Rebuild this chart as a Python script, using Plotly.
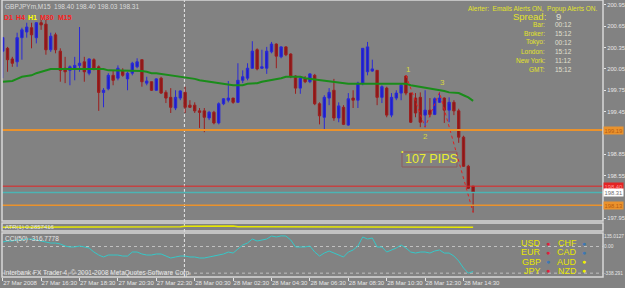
import plotly.graph_objects as go

W, H = 625, 288

# ---------------- data ----------------
bars = list(range(99))
open_ = [200.30, 200.34, 200.19, 200.15, 200.49, 200.57, 200.63, 200.49, 200.70, 200.68,
         200.32, 200.53, 200.30, 200.06, 200.03, 200.05, 200.10, 200.15, 199.99, 200.18,
         200.08, 199.72, 199.77, 199.96, 199.92, 200.03, 199.91, 199.99, 200.08, 200.18,
         199.85, 199.87, 199.75, 199.92, 199.72, 199.65, 199.50, 199.64, 199.72, 199.54,
         199.54, 199.46, 199.46, 199.36, 199.44, 199.29, 199.56, 199.61, 199.64, 199.58,
         199.89, 199.92, 200.06, 200.32, 200.06, 200.06, 200.29, 200.40, 200.22, 200.36,
         200.26, 199.95, 199.78, 199.91, 199.87, 199.96, 199.56, 199.37, 199.64, 199.75,
         199.36, 199.51, 199.26, 199.64, 199.61, 199.85, 200.01, 200.02, 200.03, 199.65,
         199.78, 199.40, 199.64, 199.71, 199.95, 199.71, 199.64, 199.65, 199.40, 199.47,
         199.41, 199.58, 199.64, 199.47, 199.58, 199.46, 199.09, 198.68, 198.40]
high = [200.50, 200.36, 200.22, 200.56, 200.63, 200.70, 200.70, 200.71, 200.74, 200.74,
        200.56, 200.56, 200.34, 200.22, 200.10, 200.22, 200.64, 200.22, 200.20, 200.20,
        200.10, 199.78, 199.99, 200.03, 200.10, 200.06, 200.01, 200.15, 200.20, 200.18,
        199.94, 199.87, 199.92, 199.94, 199.75, 199.78, 199.75, 199.75, 199.80, 199.61,
        199.58, 199.50, 199.50, 199.46, 199.46, 199.58, 199.64, 199.88, 199.64, 200.13,
        200.03, 200.13, 200.44, 200.34, 200.32, 200.36, 200.43, 200.41, 200.37, 200.37,
        200.27, 199.96, 199.94, 199.95, 199.99, 199.98, 199.58, 199.68, 199.78, 199.91,
        199.58, 199.54, 199.71, 199.75, 199.87, 200.34, 200.43, 200.18, 200.03, 199.82,
        199.80, 199.71, 199.75, 199.85, 199.96, 199.71, 199.71, 199.72, 199.75, 199.64,
        199.65, 199.72, 199.65, 199.65, 199.61, 199.49, 199.11, 198.70, 198.40]
low = [199.92, 200.01, 200.08, 200.08, 200.18, 200.49, 200.34, 200.41, 200.60, 200.25,
       200.29, 200.27, 199.87, 199.85, 199.82, 199.89, 200.01, 199.87, 199.96, 200.03,
       199.46, 199.51, 199.75, 199.82, 199.89, 199.94, 199.75, 199.96, 200.06, 199.80,
       199.82, 199.74, 199.74, 199.70, 199.57, 199.43, 199.47, 199.61, 199.43, 199.50,
       199.43, 199.22, 199.16, 199.33, 199.27, 199.27, 199.54, 199.58, 199.56, 199.57,
       199.85, 199.89, 200.05, 200.03, 200.05, 199.98, 200.27, 200.06, 200.20, 200.23,
       199.92, 199.70, 199.70, 199.85, 199.85, 199.54, 199.27, 199.18, 199.54, 199.32,
       199.30, 199.26, 199.25, 199.50, 199.50, 199.82, 199.96, 200.01, 199.54, 199.57,
       199.37, 199.37, 199.61, 199.61, 199.68, 199.29, 199.37, 199.23, 199.23, 199.37,
       199.40, 199.57, 199.29, 199.30, 199.40, 199.01, 198.67, 198.36, 198.03]
close = [200.49, 200.18, 200.13, 200.49, 200.60, 200.64, 200.53, 200.70, 200.67, 200.32,
         200.51, 200.32, 200.03, 200.01, 200.08, 200.10, 200.13, 200.01, 200.19, 200.06,
         199.72, 199.75, 199.96, 199.89, 200.06, 199.96, 199.99, 200.13, 200.15, 199.87,
         199.88, 199.75, 199.91, 199.71, 199.64, 199.51, 199.65, 199.74, 199.51, 199.51,
         199.46, 199.44, 199.37, 199.44, 199.29, 199.56, 199.63, 199.64, 199.58, 199.89,
         199.94, 200.06, 200.30, 200.05, 200.08, 200.30, 200.40, 200.23, 200.36, 200.25,
         199.94, 199.78, 199.92, 199.87, 199.98, 199.56, 199.39, 199.65, 199.72, 199.36,
         199.53, 199.27, 199.63, 199.61, 199.85, 200.34, 200.36, 200.05, 199.65, 199.80,
         199.40, 199.65, 199.71, 199.82, 199.71, 199.30, 199.43, 199.30, 199.47, 199.41,
         199.63, 199.64, 199.47, 199.58, 199.46, 199.09, 198.68, 198.37, 198.31]
ma = [199.87, 199.87, 199.88, 199.91, 199.94, 199.95, 199.96, 199.99, 200.01, 200.03,
      200.05, 200.05, 200.05, 200.05, 200.05, 200.05, 200.05, 200.05, 200.05, 200.05,
      200.05, 200.05, 200.03, 200.03, 200.02, 200.02, 200.02, 200.02, 200.02, 200.02,
      200.01, 199.99, 199.99, 199.98, 199.98, 199.96, 199.95, 199.95, 199.94, 199.92,
      199.91, 199.89, 199.88, 199.87, 199.85, 199.84, 199.84, 199.82, 199.82, 199.82,
      199.82, 199.84, 199.84, 199.85, 199.87, 199.88, 199.89, 199.91, 199.92, 199.94,
      199.94, 199.94, 199.94, 199.92, 199.91, 199.91, 199.89, 199.88, 199.87, 199.87,
      199.85, 199.85, 199.84, 199.84, 199.84, 199.85, 199.85, 199.85, 199.85, 199.85,
      199.85, 199.85, 199.84, 199.84, 199.84, 199.82, 199.81, 199.80, 199.78, 199.77,
      199.77, 199.75, 199.74, 199.72, 199.72, 199.71, 199.68, 199.65, 199.60]
cci = [57, 70, 70, 83, 83, 95, 95, 83, 70, 57,
       44, 44, 32, 6, -6, -6, 6, -6, -19, -70,
       -108, -133, -108, -108, -108, -121, -121, -70, -70, -95,
       -108, -108, -95, -95, -121, -146, -133, -121, -121, -133,
       -133, -146, -146, -133, -121, -108, -95, -70, -83, -32,
       19, 44, 95, 70, 83, 95, 133, 121, 135.01, 133,
       83, -6, -6, -6, 6, -70, -121, -83, -57, -83,
       -108, -133, -70, -44, 6, 121, 95, 108, -6, -6,
       -70, -44, -19, 19, -19, -70, -83, -70, -70, -83,
       -57, -44, -83, -83, -121, -184, -273, -338.29, -316.78]
ind2 = [0.46, 0.46, 0.46, 0.46, 0.46, 0.46, 0.46, 0.46, 0.46, 0.50,
        0.50, 0.50, 0.50, 0.50, 0.50, 0.50, 0.50, 0.50, 0.50, 0.50,
        0.50, 0.52, 0.52, 0.52, 0.52, 0.52, 0.52, 0.52, 0.52, 0.52,
        0.52, 0.52, 0.52, 0.52, 0.52, 0.52, 0.52, 0.52, 0.58, 0.58,
        0.58, 0.58, 0.62, 0.62, 0.62, 0.62, 0.62, 0.62, 0.62, 0.52,
        0.52, 0.50, 0.50, 0.50, 0.50, 0.50, 0.50, 0.50, 0.55, 0.55,
        0.55, 0.52, 0.52, 0.52, 0.52, 0.52, 0.52, 0.46, 0.46, 0.46,
        0.46, 0.48, 0.48, 0.48, 0.48, 0.48, 0.48, 0.48, 0.48, 0.48,
        0.48, 0.48, 0.48, 0.48, 0.48, 0.48, 0.48, 0.48, 0.48, 0.48,
        0.48, 0.48, 0.48, 0.48, 0.48, 0.48, 0.48, 0.48, 0.48]
zz_bars = [84, 88, 91, 98]
zz_vals = [199.96, 199.23, 199.72, 198.03]
zz_labels = ["1", "2", "3"]

time_tick_bars = [0, 8, 16, 24, 32, 40, 48, 56, 64, 72, 80, 88, 96]
time_tick_text = ["27 Mar 2008", "27 Mar 16:30", "27 Mar 18:30", "27 Mar 20:30",
                  "27 Mar 22:30", "28 Mar 00:30", "28 Mar 02:30", "28 Mar 04:30",
                  "28 Mar 06:30", "28 Mar 08:30", "28 Mar 10:30", "28 Mar 12:30",
                  "28 Mar 14:30"]
price_ticks = [197.95, 198.55, 198.85, 199.45, 199.75, 200.05, 200.35, 200.65, 200.95]
cci_ticks = [135.0127, 0.0, -338.291]
cci_tick_text = ["135.0127", "0.00", "-338.291"]

level_orange_hi = 199.19
level_orange_lo = 198.13
level_ask = 198.40
level_bid = 198.31
separator_bar = 37.85

info_labels = ["Bar:", "Broker:", "Tokyo:", "London:", "New York:", "GMT:"]
info_values = ["00:12", "15:12", "00:12", "15:12", "11:12", "15:12"]
currencies_left = ["USD", "EUR", "GBP", "JPY"]
colors_left = ["#e0203c", "#e0203c", "#3c78b4", "#e0203c"]
currencies_right = ["CHF", "CAD", "AUD", "NZD"]
colors_right = ["#3c78b4", "#3c78b4", "#f0f000", "#f0f000"]

# ---------------- figure ----------------
BG = "#828282"
FONT = "Liberation Sans, Arial, sans-serif"
WHITE = "#e6e6e6"
YEL = "#e2e22a"

fig = go.Figure()
fig.add_trace(go.Candlestick(
    x=bars, open=open_, high=high, low=low, close=close,
    increasing=dict(line=dict(color="#2a2ad6", width=1), fillcolor="#1e1ecc"),
    decreasing=dict(line=dict(color="#9c1e1e", width=1), fillcolor="#8c1818"),
    whiskerwidth=0, xaxis="x", yaxis="y", showlegend=False, hoverinfo="skip"))
fig.add_trace(go.Scatter(x=bars, y=ma, mode="lines", xaxis="x", yaxis="y",
                         line=dict(color="#1a8c1a", width=2), showlegend=False,
                         hoverinfo="skip"))
fig.add_trace(go.Scatter(x=zz_bars, y=zz_vals, mode="lines", xaxis="x", yaxis="y",
                         line=dict(color="#e02020", width=1, dash="dot"),
                         showlegend=False, hoverinfo="skip"))
fig.add_trace(go.Scatter(x=bars, y=ind2, mode="lines", xaxis="x", yaxis="y2",
                         line=dict(color="#e8e800", width=1.5), showlegend=False,
                         hoverinfo="skip"))
fig.add_trace(go.Scatter(x=bars, y=cci, mode="lines", xaxis="x", yaxis="y3",
                         line=dict(color="#35c8c8", width=1), showlegend=False,
                         hoverinfo="skip"))

def px(x):
    return x / W

def py(y):
    return 1 - y / H

X0, X1 = px(2), px(603)
MAIN = [py(221), 1]
P2 = [py(231), py(223)]
P3 = [py(277), py(233)]

fig.update_layout(
    width=W, height=H, margin=dict(l=0, r=0, t=0, b=0, autoexpand=False),
    paper_bgcolor=BG, plot_bgcolor=BG, showlegend=False,
    font=dict(family=FONT, color=WHITE, size=7),
    xaxis=dict(domain=[X0, X1], range=[-0.15, 125.06], anchor="y3",
               tickvals=time_tick_bars, ticktext=time_tick_text, tickangle=0,
               ticks="outside", ticklen=3, tickcolor=WHITE,
               ticklabelposition="outside right", automargin=False,
               tickfont=dict(size=6, color=WHITE, family=FONT),
               showgrid=False, zeroline=False, showline=False,
               rangeslider=dict(visible=False)),
    yaxis=dict(domain=MAIN, range=[197.91, 201.02], side="right", anchor="x",
               tickvals=price_ticks, ticktext=[f"{v:.2f}" for v in price_ticks],
               ticks="outside", ticklen=2, tickcolor=WHITE, automargin=False,
               tickfont=dict(size=5.8, color=WHITE, family=FONT),
               showgrid=False, zeroline=False),
    yaxis2=dict(domain=P2, range=[0, 1], anchor="x", showticklabels=False,
                showgrid=False, zeroline=False, automargin=False),
    yaxis3=dict(domain=P3, range=[-387, 171.5], side="right", anchor="x",
                tickvals=cci_ticks, ticktext=cci_tick_text, automargin=False,
                ticks="", ticklen=0, tickcolor=WHITE,
                tickfont=dict(size=4.8, color=WHITE, family=FONT),
                showgrid=False, zeroline=False),
)

shapes = []
# separator
shapes.append(dict(type="line", xref="x", yref="paper", x0=separator_bar, x1=separator_bar,
                   y0=P3[0], y1=1, line=dict(color="#e8e8e8", width=1, dash="3px,2px"),
                   layer="below"))
# CCI levels
for lv in [0.0, -338.291]:
    shapes.append(dict(type="line", xref="x domain", yref="y3", x0=0, x1=1, y0=lv, y1=lv,
                       line=dict(color="#c0c0c0", width=1, dash="3px,3px"), layer="below"))
# price levels
shapes.append(dict(type="line", xref="x domain", yref="y", x0=0, x1=1,
                   y0=level_orange_hi, y1=level_orange_hi, line=dict(color="#ea922c", width=2)))
shapes.append(dict(type="line", xref="x domain", yref="y", x0=0, x1=1,
                   y0=level_orange_lo, y1=level_orange_lo, line=dict(color="#ea922c", width=1.5)))
shapes.append(dict(type="line", xref="x domain", yref="y", x0=0, x1=1,
                   y0=level_ask, y1=level_ask, line=dict(color="#e42424", width=1)))
shapes.append(dict(type="line", xref="x domain", yref="y", x0=0, x1=1,
                   y0=level_bid, y1=level_bid, line=dict(color="#4cb4b4", width=1.5)))
# panel frames
for dom in [MAIN, P2, P3]:
    shapes.append(dict(type="rect", xref="paper", yref="paper", x0=X0, x1=X1,
                       y0=dom[0], y1=dom[1], line=dict(color="#d8d8d8", width=1.5)))
# 107 pips box
shapes.append(dict(type="rect", xref="paper", yref="paper", x0=px(402), x1=px(457),
                   y0=py(167), y1=py(152), line=dict(color="#8e5a5a", width=1)))
fig.update_layout(shapes=shapes)

ann = []

def txt(x, y, s, size=6.5, color=WHITE, anchor="left", bold=False, bg=None):
    a = dict(x=px(x), y=py(y), xref="paper", yref="paper", text=(f"<b>{s}</b>" if bold else s),
             showarrow=False, xanchor=anchor, yanchor="middle",
             font=dict(size=size, color=color, family=FONT), borderpad=0)
    if bg:
        a["bgcolor"] = bg
    ann.append(a)

txt(4, 6, "GBPJPYm,M15  198.40 198.40 198.03 198.31", 6.5, "#dcdcdc")
for s, x, c in [("D1", 3, "#ff2020"), ("H4", 15, "#ff2020"), ("H1", 27, "#ffff00"),
                ("M30", 39, "#ff2020"), ("M15", 57, "#ff2020")]:
    txt(x, 17, s, 7, c, bold=True)

txt(599, 9, "Alerter:  Emails Alerts ON,  Popup Alerts ON.", 6.5, YEL, anchor="right")
txt(547, 16, "Spread:", 9.5, YEL, anchor="right")
txt(555, 16, "9", 9.5, "#e0e0d0")
for k, (lab, val) in enumerate(zip(info_labels, info_values)):
    yy = 24 + k * 9
    txt(546, yy, lab, 6.5, YEL, anchor="right")
    txt(554, yy, val, 6.5, "#e0e0d0")

txt(4, 227, "ATR(1) 0.2857416", 6, WHITE)
txt(4, 239, "CCI(50) -316.7778", 6.5, WHITE)
txt(3, 273, "Interbank FX Trader 4, © 2001-2008 MetaQuotes Software Corp.", 6.5, WHITE)

# right price boxes
for val, bg, fc in [(level_orange_hi, "#ea922c", "#b85c10"), (level_ask, "#e42424", "#ff9090"),
                    (level_bid, "#ffffff", "#707070"), (level_orange_lo, "#ea922c", "#b85c10")]:
    ann.append(dict(x=px(603), y=val, xref="paper", yref="y", text=f"{val:.2f}",
                    showarrow=False, xanchor="left", yanchor="middle", bgcolor=bg,
                    font=dict(size=5.8, color=fc, family=FONT), borderpad=0.5))

# zigzag labels
for b, v, lab, dy, dx in zip(zz_bars[:3], zz_vals[:3], zz_labels, [-6, 9, -10], [3, 0, 3]):
    ann.append(dict(x=b, y=v, xref="x", yref="y", text=lab, showarrow=False,
                    yshift=-dy, xshift=dx,
                    font=dict(size=8, color="#d8d83a", family=FONT)))

txt(404, 159, "107 PIPS", 12.5, "#ecec30")
txt(400, 151, "•", 7, "#ecec30")

# currency legend
for k in range(4):
    yy = 243 + k * 9.3
    txt(542, yy, currencies_left[k], 9, "#e6e600", anchor="right")
    txt(548, yy, "●", 7, colors_left[k], anchor="center")
    txt(578, yy, currencies_right[k], 9, "#e6e600", anchor="right")
    txt(584, yy, "●", 7, colors_right[k], anchor="center")

fig.update_layout(annotations=ann)
fig.write_html("out.html")
